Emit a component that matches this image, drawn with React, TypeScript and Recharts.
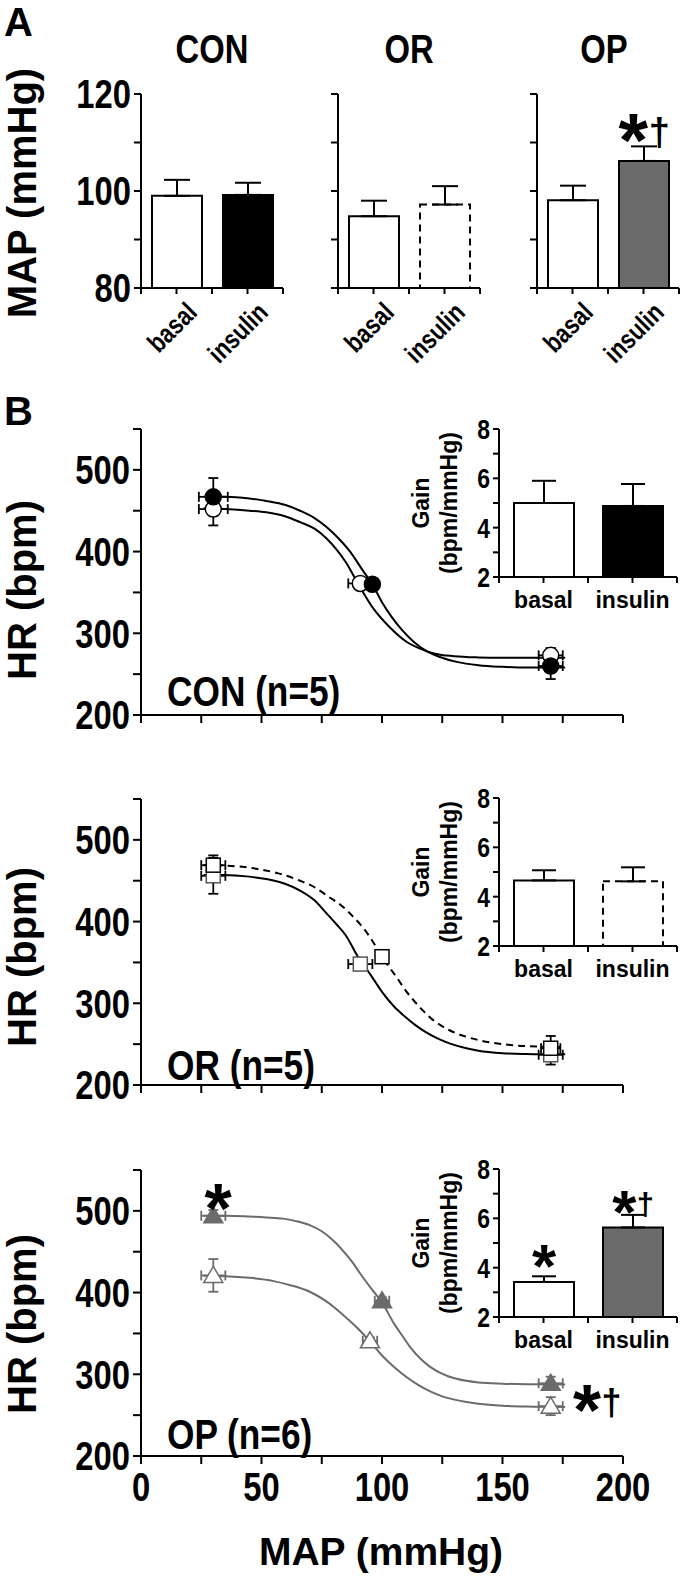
import React from 'react';
import { BarChart, Bar, ComposedChart, Line, Scatter, XAxis, YAxis, ErrorBar, Cell, LabelList } from 'recharts';

const FONT = "'Liberation Sans', Arial, Helvetica, sans-serif";
const GRAY = '#6b6b6b';
const SQUEEZE = 0.82; // condensed look of the original lettering

const conditions = ['basal', 'insulin'];

// Panel A: MAP (mmHg), mean and SEM
const mapCON = [99.0, 99.2];
const mapErrCON = [3.3, 2.5];
const mapOR = [94.8, 97.2];
const mapErrOR = [3.2, 3.8];
const mapOP = [98.1, 106.2];
const mapErrOP = [3.0, 3.0];
const mapMarksOP = ['', '*†'];

// Panel B insets: baroreflex gain (bpm/mmHg)
const gainCON = [5.0, 4.88];
const gainErrCON = [0.9, 0.89];
const gainOR = [4.66, 4.62];
const gainErrOR = [0.41, 0.57];
const gainOP = [3.42, 5.63];
const gainErrOP = [0.23, 0.51];
const gainMarksOP = ['*', '*†'];

// Panel B points: MAP (x) vs HR (y)
const conBasalX = [30, 91, 170];
const conBasalY = [452, 361, 273];
const conBasalYErr = [20, 3, 9];
const conBasalXErr = [6, 5, 5];
const conInsX = [30, 96, 170];
const conInsY = [467, 360, 260];
const conInsYErr = [23, 3, 16];
const conInsXErr = [6, 2, 5];

const orBasalX = [30, 91, 170];
const orBasalY = [456, 348, 237];
const orBasalYErr = [22, 3, 12];
const orBasalXErr = [5, 5, 5];
const orInsX = [30, 100, 170];
const orInsY = [469, 357, 245];
const orInsYErr = [12, 4, 15];
const orInsXErr = [5, 2, 4];

const opBasalX = [30, 95, 170];
const opBasalY = [421, 341, 261];
const opBasalYErr = [20, 4, 11];
const opBasalXErr = [5, 3, 5];
const opInsX = [30, 100, 170];
const opInsY = [494, 390, 289];
const opInsYErr = [7, 4, 8];
const opInsXErr = [5, 3, 5];

// fitted curves
const conBasalCurveX = [26, 35, 45, 52, 60, 66, 72, 77, 81, 85, 90, 96, 103, 110, 116, 122, 130, 140, 150, 160, 176];
const conBasalCurveY = [453, 452, 450, 448, 443, 436, 428, 416, 403, 387, 361, 332, 308, 290, 281, 275, 272, 270.5, 270, 270, 270];
const conInsCurveX = [26, 35, 45, 52, 60, 66, 72, 77, 82, 87, 92, 96, 100, 104, 108, 113, 118, 124, 131, 140, 150, 160, 176];
const conInsCurveY = [467, 467, 465, 462, 457, 450, 441, 430, 416, 399, 377, 360, 338, 320, 305, 290, 279, 271, 265, 261, 259, 258, 258];

const orBasalCurveX = [26, 34, 45, 52, 60, 66, 72, 77, 81, 85, 90, 95, 100, 105, 109, 114, 118, 123, 128, 135, 140, 150, 160, 176];
const orBasalCurveY = [457, 457, 455, 452, 446, 438, 426, 410, 397, 383, 357, 336, 314, 296, 285, 273, 265, 257, 251, 245, 242, 239, 238, 237.5];
const orInsCurveX = [26, 34, 42, 49, 57, 66, 72, 78, 83, 88, 92, 95, 100, 106, 110, 113, 117, 121, 128, 135, 140, 150, 160, 176];
const orInsCurveY = [469, 468.5, 467, 464, 459, 450, 442, 430, 420, 406, 393, 381, 357, 332, 315, 304, 291, 280, 267, 259, 255, 250, 247.5, 246.5];

const opBasalCurveX = [26, 35, 45, 55, 62, 70, 76, 81, 86, 90, 95, 100, 105, 110, 115, 120, 125, 130, 140, 150, 160, 176];
const opBasalCurveY = [420.5, 420, 418, 414, 409, 401, 391, 380, 367, 356, 340, 323, 309, 297, 287, 279, 273, 269, 264, 261.5, 260.5, 260];
const opInsCurveX = [26, 35, 45, 52, 59, 65, 70, 75, 80, 85, 88, 91, 95, 100, 105, 108, 112, 116, 120, 124, 128, 135, 140, 150, 160, 176];
const opInsCurveY = [494, 494, 493, 492, 490.5, 487, 482.5, 475, 463, 447, 436, 423, 407, 388, 362, 349, 332, 319, 309, 302, 297, 292, 290, 288.5, 287.8, 287.5];

const hrTicks = [200, 250, 300, 350, 400, 450, 500, 550];
const mapTicksB = [0, 25, 50, 75, 100, 125, 150, 175, 200];
const mapTicksA = [80, 90, 100, 110, 120];
const gainTicks = [2, 3, 4, 5, 6, 7, 8];
const slotTicks = [0, 0.5, 1, 1.5, 2];

const points = (xs: number[], ys: number[], ex: number[], ey: number[]) =>
  xs.map((x, i) => ({ x, y: ys[i], ex: ex[i], ey: ey[i] }));
const curve = (xs: number[], ys: number[]) => xs.map((x, i) => ({ x, y: ys[i] }));

const axisStyle = { stroke: '#000', strokeWidth: 2 };

// condensed bold tick text
const NarrowTick = (p: any) => {
  const label = p.fmtFn(p.payload?.value);
  if (!label) return <g />;
  return (
    <text transform={`translate(${p.x},${p.y}) scale(${SQUEEZE},1)`} textAnchor={p.anc} dy={p.vdy}
      fontSize={p.fs} fontWeight={700} fontFamily={FONT} fill="#000">
      {label}
    </text>
  );
};

const RotTick = (p: any) => {
  const v = p.payload?.value;
  const label = v === 0.5 ? conditions[0] : v === 1.5 ? conditions[1] : '';
  if (!label) return <g />;
  const ax = p.x + 22;
  const ay = p.y + 18;
  return (
    <text transform={`translate(${ax},${ay}) rotate(-45) scale(${SQUEEZE},1)`} textAnchor="end"
      fontSize={27} fontWeight={700} fontFamily={FONT} fill="#000">
      {label}
    </text>
  );
};

function Mark({ cx, cy, size, text }: { cx: number; cy: number; size: number; text: string }) {
  const dag = text.includes('†');
  const aw = size * 0.33;
  const dFont = size * 0.5;
  const dw = dFont * 0.42;
  const gap = size * 0.07;
  const total = aw + (dag ? gap + dw : 0);
  const x0 = cx - total / 2;
  return (
    <g fontWeight={700} fill="#000" fontFamily={FONT}>
      <text x={x0 + aw / 2} y={cy + size * 0.585} fontSize={size} textAnchor="middle">*</text>
      {dag && (
        <text x={x0 + aw + gap + dw / 2} y={cy + dFont * 0.6} fontSize={dFont} textAnchor="middle">†</text>
      )}
    </g>
  );
}

const barMark = (offset: number, size: number) => (p: any) => {
  if (!p.value) return null;
  const cx = Number(p.x) + Number(p.width) / 2;
  return <Mark cx={cx} cy={Number(p.y) - offset} size={size} text={String(p.value)} />;
};

function MapBars({ axisX, values, errs, fill, dashed, marks, showY }: any) {
  const data = conditions.map((c, i) => ({ pos: i + 0.5, v: values[i], err: [0, errs[i]], mark: marks ? marks[i] : '' }));
  const yw = showY ? axisX : 20;
  const top = 60;
  return (
    <div style={{ position: 'absolute', left: axisX - yw, top: 94 - top }}>
      <BarChart width={yw + 143} height={top + 194 + 100} data={data} margin={{ top, right: 1, bottom: 0, left: 0 }}>
        <XAxis type="number" dataKey="pos" domain={[0, 2]} ticks={slotTicks} height={100}
          axisLine={axisStyle} tickLine={axisStyle} tickSize={6} tickMargin={2} tick={<RotTick />} interval={0} />
        <YAxis domain={[80, 120]} ticks={mapTicksA} width={yw} axisLine={axisStyle} tickLine={axisStyle}
          tickSize={7} tickMargin={3} interval={0}
          tick={<NarrowTick fs={40} anc="end" vdy="0.355em" fmtFn={(v: number) => (showY && v % 20 === 0 ? String(v) : '')} />} />
        <Bar dataKey="v" barSize={50} isAnimationActive={false}>
          {data.map((d, i) => (
            <Cell key={i} fill={i === 0 ? '#fff' : fill} stroke="#000" strokeWidth={2}
              strokeDasharray={i === 1 && dashed ? '7 5' : undefined} />
          ))}
          <ErrorBar dataKey="err" width={13} stroke="#000" strokeWidth={2} direction="y" />
          <LabelList dataKey="mark" content={barMark(39, 76)} />
        </Bar>
      </BarChart>
    </div>
  );
}

function GainInset({ top, values, errs, fill, dashed, marks }: any) {
  const data = conditions.map((c, i) => ({ pos: i + 0.5, v: values[i], err: [0, errs[i]], mark: marks ? marks[i] : '' }));
  const yw = 30;
  const mt = 30;
  return (
    <div style={{ position: 'absolute', left: 499 - yw, top: top - mt }}>
      <BarChart width={yw + 181} height={mt + 148 + 45} data={data} margin={{ top: mt, right: 3, bottom: 0, left: 0 }}>
        <XAxis type="number" dataKey="pos" domain={[0, 2]} ticks={slotTicks} height={45} interval={0}
          axisLine={axisStyle} tickLine={axisStyle} tickSize={6} tickMargin={9}
          tick={{ fontSize: 23, fontWeight: 700, fill: '#000', fontFamily: FONT }}
          tickFormatter={(v: number) => (v === 0.5 ? conditions[0] : v === 1.5 ? conditions[1] : '')} />
        <YAxis domain={[2, 8]} ticks={gainTicks} width={yw} axisLine={axisStyle} tickLine={axisStyle}
          tickSize={6} tickMargin={3} interval={0}
          tick={<NarrowTick fs={28} anc="end" vdy="0.355em" fmtFn={(v: number) => (v % 2 === 0 ? String(v) : '')} />} />
        <Bar dataKey="v" barSize={60} isAnimationActive={false}>
          {data.map((d, i) => (
            <Cell key={i} fill={i === 0 ? '#fff' : fill} stroke="#000" strokeWidth={2}
              strokeDasharray={i === 1 && dashed ? '7 5' : undefined} />
          ))}
          <ErrorBar dataKey="err" width={12} stroke="#000" strokeWidth={2} direction="y" />
          <LabelList dataKey="mark" content={barMark(31, 62)} />
        </Bar>
      </BarChart>
    </div>
  );
}

const circle = (fill: string) => (p: any) => (
  <circle cx={p.cx} cy={p.cy} r={8} fill={fill} stroke="#000" strokeWidth={1.5} />
);
const square = (stroke: string) => (p: any) => (
  <rect x={p.cx - 7} y={p.cy - 7} width={14} height={14} fill="#fff" stroke={stroke} strokeWidth={1.5} />
);
const triangle = (fill: string) => (p: any) => (
  <polygon points={`${p.cx},${p.cy - 9} ${p.cx + 9.5},${p.cy + 7} ${p.cx - 9.5},${p.cy + 7}`}
    fill={fill} stroke={GRAY} strokeWidth={1.5} />
);

function HrPanel({ top, series, showX }: any) {
  const mt = 20;
  return (
    <div style={{ position: 'absolute', left: 0, top: top - mt }}>
      <ComposedChart width={680} height={mt + 296 + 60} margin={{ top: mt, right: 57, bottom: 10, left: 0 }}>
        <XAxis type="number" dataKey="x" domain={[0, 200]} ticks={mapTicksB} height={60} interval={0}
          axisLine={axisStyle} tickLine={axisStyle} tickSize={8} tickMargin={9}
          tick={<NarrowTick fs={40} anc="middle" vdy="0.71em" fmtFn={(v: number) => (showX && v % 50 === 0 ? String(v) : '')} />} />
        <YAxis type="number" domain={[200, 550]} ticks={hrTicks} width={141} interval={0}
          axisLine={axisStyle} tickLine={axisStyle} tickSize={8} tickMargin={3}
          tick={<NarrowTick fs={40} anc="end" vdy="0.355em" fmtFn={(v: number) => (v % 100 === 0 ? String(v) : '')} />} />
        {series.map((s: any, i: number) => (
          <Line key={`l${i}`} data={s.curve} dataKey="y" type="monotone" dot={false} activeDot={false}
            stroke={s.color} strokeWidth={2} strokeDasharray={s.dashed ? '7 5' : undefined} isAnimationActive={false} />
        ))}
        {series.map((s: any, i: number) => (
          <Scatter key={`s${i}`} data={s.pts} dataKey="y" shape={s.shape} isAnimationActive={false}>
            <ErrorBar dataKey="ey" direction="y" width={5} stroke={s.color} strokeWidth={1.8} />
            <ErrorBar dataKey="ex" direction="x" width={5} stroke={s.color} strokeWidth={1.8} />
          </Scatter>
        ))}
      </ComposedChart>
    </div>
  );
}

const conSeries = [
  { curve: curve(conBasalCurveX, conBasalCurveY), pts: points(conBasalX, conBasalY, conBasalXErr, conBasalYErr), color: '#000', shape: circle('#fff') },
  { curve: curve(conInsCurveX, conInsCurveY), pts: points(conInsX, conInsY, conInsXErr, conInsYErr), color: '#000', shape: circle('#000') },
];
const orSeries = [
  { curve: curve(orBasalCurveX, orBasalCurveY), pts: points(orBasalX, orBasalY, orBasalXErr, orBasalYErr), color: '#000', shape: square('#555') },
  { curve: curve(orInsCurveX, orInsCurveY), pts: points(orInsX, orInsY, orInsXErr, orInsYErr), color: '#000', dashed: true, shape: square('#000') },
];
const opSeries = [
  { curve: curve(opBasalCurveX, opBasalCurveY), pts: points(opBasalX, opBasalY, opBasalXErr, opBasalYErr), color: GRAY, shape: triangle('#fff') },
  { curve: curve(opInsCurveX, opInsCurveY), pts: points(opInsX, opInsY, opInsXErr, opInsYErr), color: GRAY, shape: triangle(GRAY) },
];

function NText({ x, y, size, anchor, children }: any) {
  return (
    <text transform={`translate(${x},${y}) scale(${SQUEEZE},1)`} fontSize={size} textAnchor={anchor}>
      {children}
    </text>
  );
}

export default function App() {
  const hrTops = [429, 799, 1170];
  const panelLabels = ['CON (n=5)', 'OR (n=5)', 'OP (n=6)'];
  const insetTops = [429, 798, 1169];
  return (
    <div style={{ position: 'absolute', left: 0, top: 0, width: 680, height: 1577, background: '#fff', overflow: 'hidden' }}>
      <MapBars axisX={141} values={mapCON} errs={mapErrCON} fill="#000" showY />
      <MapBars axisX={338} values={mapOR} errs={mapErrOR} fill="#fff" dashed />
      <MapBars axisX={537} values={mapOP} errs={mapErrOP} fill={GRAY} marks={mapMarksOP} />

      <HrPanel top={hrTops[0]} series={conSeries} />
      <HrPanel top={hrTops[1]} series={orSeries} />
      <HrPanel top={hrTops[2]} series={opSeries} showX />

      <GainInset top={insetTops[0]} values={gainCON} errs={gainErrCON} fill="#000" />
      <GainInset top={insetTops[1]} values={gainOR} errs={gainErrOR} fill="#fff" dashed />
      <GainInset top={insetTops[2]} values={gainOP} errs={gainErrOP} fill={GRAY} marks={gainMarksOP} />

      <svg width={680} height={1577} style={{ position: 'absolute', left: 0, top: 0, pointerEvents: 'none' }}
        fontFamily={FONT} fontWeight={700} fill="#000">
        <text x={4} y={36} fontSize={40}>A</text>
        <text x={4} y={425} fontSize={40}>B</text>
        <NText x={212} y={63} size={40} anchor="middle">CON</NText>
        <NText x={409} y={63} size={40} anchor="middle">OR</NText>
        <NText x={604} y={63} size={40} anchor="middle">OP</NText>
        {[706, 1080, 1449].map((y, i) => (
          <NText key={i} x={167} y={y} size={43}>{panelLabels[i]}</NText>
        ))}
        <text transform="translate(36,193) rotate(-90)" fontSize={40} textAnchor="middle">MAP (mmHg)</text>
        {[590, 957, 1324].map((cy, i) => (
          <text key={i} transform={`translate(36,${cy}) rotate(-90)`} fontSize={40} textAnchor="middle">HR (bpm)</text>
        ))}
        {insetTops.map((t, i) => (
          <g key={i}>
            <text transform={`translate(429,${t + 74}) rotate(-90)`} fontSize={23} textAnchor="middle">Gain</text>
            <text transform={`translate(457,${t + 74}) rotate(-90)`} fontSize={23} textAnchor="middle">(bpm/mmHg)</text>
          </g>
        ))}
        <text x={381} y={1565} fontSize={39} textAnchor="middle">MAP (mmHg)</text>
        <Mark cx={218} cy={1192} size={70} text="*" />
        <Mark cx={597} cy={1393} size={72} text="*†" />
      </svg>
    </div>
  );
}
